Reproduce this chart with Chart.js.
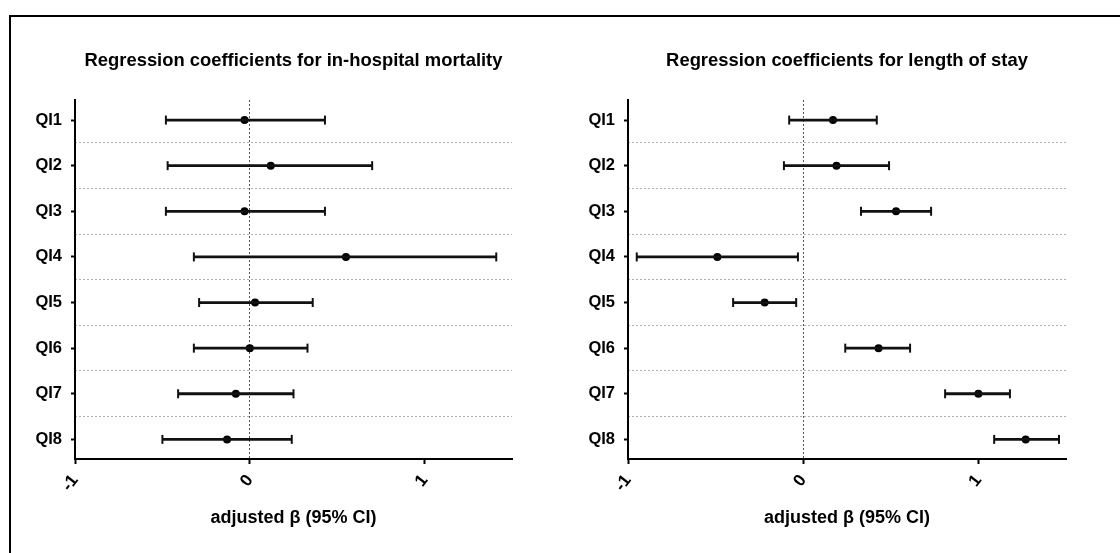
<!DOCTYPE html>
<html>
<head>
<meta charset="utf-8">
<title>Regression coefficients</title>
<script src="https://cdn.jsdelivr.net/npm/chart.js@4.4.1/dist/chart.umd.min.js"></script>
<style>
  html, body { margin: 0; padding: 0; background: #fff; overflow: hidden; }
  .frame { position: absolute; left: 9px; top: 15px; width: 1300px; height: 800px; border: 2px solid #000; }
  canvas { position: absolute; top: 30px; }
  #mortChart { left: 20px; }
  #losChart { left: 573px; }
</style>
</head>
<body>
<div class="frame"></div>
<canvas id="mortChart" width="510" height="515"></canvas>
<canvas id="losChart" width="510" height="515"></canvas>

<script>
const categories = ["QI1", "QI2", "QI3", "QI4", "QI5", "QI6", "QI7", "QI8"];
const xTicks = [-1, 0, 1];

// in-hospital mortality: estimate and 95% CI
const mortEst = [-0.03, 0.12, -0.03, 0.55, 0.03, 0.0, -0.08, -0.13];
const mortLow = [-0.48, -0.47, -0.48, -0.32, -0.29, -0.32, -0.41, -0.5];
const mortHigh = [0.43, 0.7, 0.43, 1.41, 0.36, 0.33, 0.25, 0.24];

// length of stay: estimate and 95% CI
const losEst = [0.17, 0.19, 0.53, -0.49, -0.22, 0.43, 1.0, 1.27];
const losLow = [-0.08, -0.11, 0.33, -0.95, -0.4, 0.24, 0.81, 1.09];
const losHigh = [0.42, 0.49, 0.73, -0.03, -0.04, 0.61, 1.18, 1.46];

const FONT = "'Liberation Sans', Arial, sans-serif";

function buildDatasets(est, low, high) {
  const sets = categories.map((c, i) => ({
    label: c + " CI",
    data: [
      { x: low[i], y: i + 1 },
      { x: high[i], y: i + 1 },
    ],
    showLine: true,
    borderColor: "#111",
    borderWidth: 2.8,
    pointStyle: "line",
    pointRotation: 90,
    pointRadius: 4.5,
    pointBorderWidth: 2,
    pointBorderColor: "#111",
  }));
  sets.push({
    label: "estimate",
    data: est.map((v, i) => ({ x: v, y: i + 1 })),
    showLine: false,
    pointStyle: "circle",
    pointRadius: 4,
    pointBackgroundColor: "#000",
    pointBorderColor: "#000",
    pointBorderWidth: 0,
  });
  return sets;
}

function makeChart(canvasId, title, est, low, high, padRight) {
  return new Chart(document.getElementById(canvasId).getContext("2d"), {
    type: "scatter",
    data: { datasets: buildDatasets(est, low, high) },
    options: {
      responsive: false,
      animation: false,
      layout: { padding: { left: 0, right: padRight, top: 0, bottom: 0 } },
      plugins: {
        legend: { display: false },
        tooltip: { enabled: false },
      },
      scales: {
        x: {
          type: "linear",
          min: -1,
          max: 1.5,
          afterBuildTicks: (axis) => {
            axis.ticks = xTicks.map((v) => ({ value: v }));
          },
          afterFit: (axis) => {
            axis.height = 86;
          },
          ticks: {
            autoSkip: false,
            minRotation: 52,
            maxRotation: 52,
            padding: 7,
            color: "#000",
            font: { family: FONT, size: 17, weight: "bold" },
          },
          grid: {
            color: (ctx) => (ctx.tick && ctx.tick.value === 0 ? "#555" : "transparent"),
            lineWidth: 1,
            drawTicks: true,
            tickLength: 5,
            tickColor: "#000",
            tickWidth: 2,
          },
          border: { color: "#000", width: 2, dash: [2, 2] },
          title: {
            display: true,
            text: "adjusted β (95% CI)",
            color: "#000",
            font: { family: FONT, size: 18, weight: "bold" },
            padding: { top: 0, bottom: 16 },
          },
        },
        // top axis only carries the panel heading, centred over the plot area
        xTop: {
          type: "linear",
          position: "top",
          min: -1,
          max: 1.5,
          afterFit: (axis) => {
            axis.height = 70;
          },
          ticks: { display: false },
          grid: { drawOnChartArea: false, drawTicks: false },
          border: { display: false },
          title: {
            display: true,
            text: title,
            color: "#000",
            font: { family: FONT, size: 18.4, weight: "bold" },
            padding: { top: 20, bottom: 28 },
          },
        },
        y: {
          type: "linear",
          reverse: true,
          min: 0.56,
          max: 8.43,
          afterBuildTicks: (axis) => {
            axis.ticks = categories.map((c, i) => ({ value: i + 1 }));
          },
          afterFit: (axis) => {
            axis.width = 55;
          },
          ticks: {
            autoSkip: false,
            padding: 9,
            color: "#000",
            font: { family: FONT, size: 16.5, weight: "bold" },
            callback: (v) => categories[v - 1],
          },
          grid: {
            drawOnChartArea: false,
            drawTicks: true,
            tickLength: 4,
            tickColor: "#000",
            tickWidth: 2,
          },
          border: { color: "#000", width: 2 },
        },
        yGrid: {
          type: "linear",
          position: "left",
          reverse: true,
          min: 0.56,
          max: 8.43,
          afterBuildTicks: (axis) => {
            axis.ticks = categories.slice(1).map((c, i) => ({ value: i + 1.5 }));
          },
          afterFit: (axis) => {
            axis.width = 0;
          },
          ticks: { display: false },
          grid: { color: "#b0b0b0", lineWidth: 1, drawTicks: false },
          border: { display: false, dash: [2, 2] },
        },
      },
    },
  });
}

makeChart("mortChart", "Regression coefficients for in-hospital mortality", mortEst, mortLow, mortHigh, 18);
makeChart("losChart", "Regression coefficients for length of stay", losEst, losLow, losHigh, 17);
</script>
</body>
</html>
